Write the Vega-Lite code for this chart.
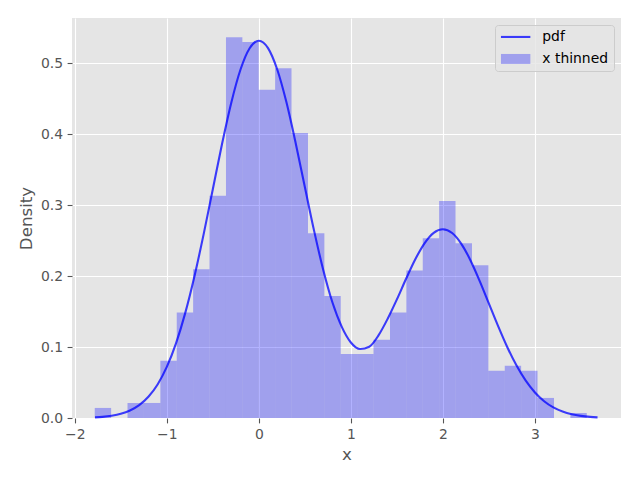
{
  "$schema": "https://vega.github.io/schema/vega-lite/v6.json",
  "width": 549,
  "height": 400,
  "autosize": {"type": "none"},
  "padding": {"left": 72, "top": 18, "right": 19, "bottom": 62},
  "background": "white",
  "config": {
    "view": {"fill": "#E5E5E5", "stroke": null},
    "font": "DejaVu Sans",
    "axis": {
      "domain": false,
      "gridColor": "white",
      "gridWidth": 1.1,
      "gridOpacity": 1,
      "tickColor": "#555555",
      "tickSize": 4.9,
      "tickWidth": 1.1,
      "labelColor": "#555555",
      "labelFontSize": 13.9,
      "labelFont": "DejaVu Sans",
      "labelPadding": 4.5,
      "titleColor": "#555555",
      "titleFontSize": 16.7,
      "titleFontWeight": "normal",
      "titleFont": "DejaVu Sans",
      "titlePadding": 5
    },
    "legend": {
      "labelFont": "DejaVu Sans",
      "labelFontSize": 13.9,
      "labelColor": "#000000"
    }
  },
  "datasets": {
    "bins": [
      {"x0": -1.783, "x1": -1.605, "density": 0.0142},
      {"x0": -1.605, "x1": -1.427, "density": 0},
      {"x0": -1.427, "x1": -1.248, "density": 0.0212},
      {"x0": -1.248, "x1": -1.07, "density": 0.0212},
      {"x0": -1.07, "x1": -0.892, "density": 0.0807},
      {"x0": -0.892, "x1": -0.714, "density": 0.1487},
      {"x0": -0.714, "x1": -0.536, "density": 0.2096},
      {"x0": -0.536, "x1": -0.357, "density": 0.3135},
      {"x0": -0.357, "x1": -0.179, "density": 0.537},
      {"x0": -0.179, "x1": -0.001, "density": 0.53},
      {"x0": -0.001, "x1": 0.177, "density": 0.463},
      {"x0": 0.177, "x1": 0.355, "density": 0.493},
      {"x0": 0.355, "x1": 0.534, "density": 0.402},
      {"x0": 0.534, "x1": 0.712, "density": 0.2606},
      {"x0": 0.712, "x1": 0.89, "density": 0.1719},
      {"x0": 0.89, "x1": 1.068, "density": 0.0902},
      {"x0": 1.068, "x1": 1.246, "density": 0.0902},
      {"x0": 1.246, "x1": 1.425, "density": 0.1105},
      {"x0": 1.425, "x1": 1.603, "density": 0.1487},
      {"x0": 1.603, "x1": 1.781, "density": 0.208},
      {"x0": 1.781, "x1": 1.959, "density": 0.2535},
      {"x0": 1.959, "x1": 2.137, "density": 0.306},
      {"x0": 2.137, "x1": 2.316, "density": 0.2465},
      {"x0": 2.316, "x1": 2.494, "density": 0.2153},
      {"x0": 2.494, "x1": 2.672, "density": 0.0666},
      {"x0": 2.672, "x1": 2.85, "density": 0.0737},
      {"x0": 2.85, "x1": 3.028, "density": 0.0666},
      {"x0": 3.028, "x1": 3.207, "density": 0.0283},
      {"x0": 3.207, "x1": 3.385, "density": 0},
      {"x0": 3.385, "x1": 3.563, "density": 0.0071}
    ],
    "pdf": [
      {"x": -1.78, "pdf": 0.0009},
      {"x": -1.7, "pdf": 0.0016},
      {"x": -1.6, "pdf": 0.0032},
      {"x": -1.5, "pdf": 0.0059},
      {"x": -1.4, "pdf": 0.0106},
      {"x": -1.3, "pdf": 0.0181},
      {"x": -1.2, "pdf": 0.0299},
      {"x": -1.1, "pdf": 0.0473},
      {"x": -1.0, "pdf": 0.072},
      {"x": -0.9, "pdf": 0.1053},
      {"x": -0.8, "pdf": 0.1479},
      {"x": -0.7, "pdf": 0.1996},
      {"x": -0.6, "pdf": 0.2589},
      {"x": -0.5, "pdf": 0.3226},
      {"x": -0.4, "pdf": 0.3863},
      {"x": -0.3, "pdf": 0.4443},
      {"x": -0.2, "pdf": 0.491},
      {"x": -0.1, "pdf": 0.5214},
      {"x": 0.0, "pdf": 0.532},
      {"x": 0.1, "pdf": 0.5216},
      {"x": 0.2, "pdf": 0.4914},
      {"x": 0.3, "pdf": 0.4451},
      {"x": 0.4, "pdf": 0.3878},
      {"x": 0.5, "pdf": 0.3256},
      {"x": 0.6, "pdf": 0.2642},
      {"x": 0.7, "pdf": 0.2087},
      {"x": 0.8, "pdf": 0.1628},
      {"x": 0.9, "pdf": 0.1289},
      {"x": 1.0, "pdf": 0.1065},
      {"x": 1.1, "pdf": 0.0972},
      {"x": 1.2, "pdf": 0.1005},
      {"x": 1.3, "pdf": 0.1165},
      {"x": 1.4, "pdf": 0.14},
      {"x": 1.5, "pdf": 0.1672},
      {"x": 1.6, "pdf": 0.1963},
      {"x": 1.7, "pdf": 0.2238},
      {"x": 1.8, "pdf": 0.2463},
      {"x": 1.9, "pdf": 0.2611},
      {"x": 2.0, "pdf": 0.2661},
      {"x": 2.1, "pdf": 0.2608},
      {"x": 2.2, "pdf": 0.2456},
      {"x": 2.3, "pdf": 0.2222},
      {"x": 2.4, "pdf": 0.1931},
      {"x": 2.5, "pdf": 0.1613},
      {"x": 2.6, "pdf": 0.1295},
      {"x": 2.7, "pdf": 0.0998},
      {"x": 2.8, "pdf": 0.0739},
      {"x": 2.9, "pdf": 0.0526},
      {"x": 3.0, "pdf": 0.036},
      {"x": 3.1, "pdf": 0.0237},
      {"x": 3.2, "pdf": 0.0149},
      {"x": 3.3, "pdf": 0.0091},
      {"x": 3.4, "pdf": 0.0053},
      {"x": 3.5, "pdf": 0.003},
      {"x": 3.6, "pdf": 0.0016},
      {"x": 3.68, "pdf": 0.0009}
    ]
  },
  "layer": [
    {
      "data": {"name": "bins"},
      "mark": {"type": "rect"},
      "encoding": {
        "x": {
          "field": "x0",
          "type": "quantitative",
          "scale": {"domain": [-2.03, 3.935], "nice": false, "zero": false},
          "axis": {
            "values": [-2, -1, 0, 1, 2, 3],
            "format": "d",
            "labelExpr": "replace(datum.label, '-', '\u2212')",
            "title": "x"
          }
        },
        "x2": {"field": "x1"},
        "y": {
          "field": "density",
          "type": "quantitative",
          "scale": {"domain": [0, 0.564], "nice": false},
          "axis": {
            "values": [0, 0.1, 0.2, 0.3, 0.4, 0.5],
            "format": ".1f",
            "title": "Density"
          }
        },
        "y2": {"datum": 0},
        "color": {
          "datum": "x thinned",
          "type": "nominal",
          "scale": {"domain": ["pdf", "x thinned"], "range": ["rgba(0,0,255,0.75)", "rgba(0,0,255,0.3)"]},
          "legend": {
            "title": null,
            "orient": "top-right",
            "offset": 7,
            "padding": 5,
            "fillColor": "rgba(229,229,229,0.8)",
            "strokeColor": "#CCCCCC",
            "cornerRadius": 3,
            "symbolSize": 144,
            "symbolOpacity": 1,
            "symbolType": {"expr": "datum.value === 'pdf' ? 'M-1,0L3.9,0' : 'M-1,-0.833L3.9,-0.833L3.9,0.833L-1,0.833Z'"},
            "symbolStrokeWidth": {"expr": "datum.value === 'pdf' ? 2.1 : 0"},
            "symbolStrokeColor": "rgba(0,0,255,0.75)",
            "labelOffset": 28.4,
            "rowPadding": 7
          }
        }
      }
    },
    {
      "data": {"name": "pdf"},
      "mark": {"type": "line", "strokeWidth": 2.1, "interpolate": "monotone"},
      "encoding": {
        "x": {"field": "x", "type": "quantitative"},
        "y": {"field": "pdf", "type": "quantitative"},
        "color": {"datum": "pdf", "type": "nominal"}
      }
    }
  ]
}
